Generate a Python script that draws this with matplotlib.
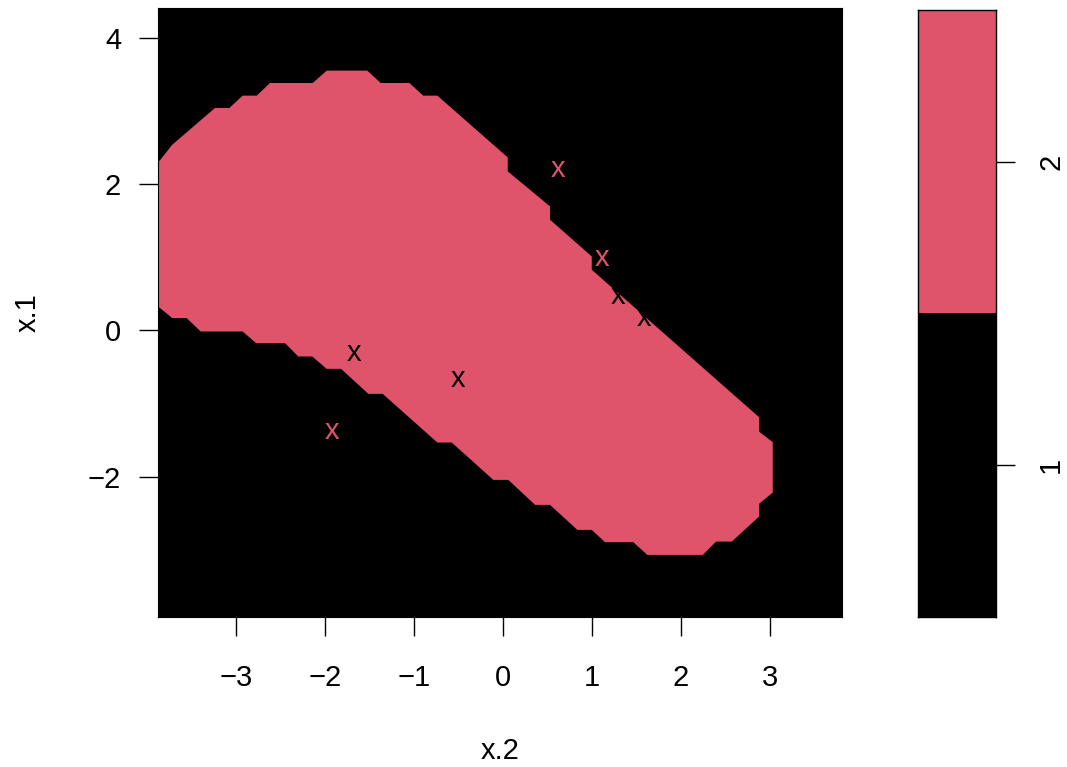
import matplotlib
matplotlib.use("Agg")
import matplotlib.pyplot as plt

plt.rcParams['font.family'] = ['Liberation Sans', 'DejaVu Sans']

# colours used by R's default palette for the two classes
class_colors = {1: 'black', 2: '#DF536B'}

# outline of the region predicted as class 2 (x.2, x.1)
boundary_x2 = [-3.876, -3.716, -3.236, -3.075, -2.925, -2.767, -2.618, -2.138,
               -1.981, -1.525, -1.374, -1.053, -0.896, -0.738, 0.053, 0.053,
               0.528, 0.528, 0.997, 0.997, 2.876, 2.876, 3.030, 3.030,
               2.876, 2.876, 2.570, 2.393, 2.244, 1.621, 1.464, 1.146,
               0.997, 0.835, 0.528, 0.360, 0.060, -0.109, -0.576, -0.738,
               -1.352, -1.513, -1.820, -1.981, -2.143, -2.300, -2.449, -2.775,
               -2.925, -3.397, -3.554, -3.716, -3.876]
boundary_x1 = [2.294, 2.540, 3.042, 3.042, 3.211, 3.211, 3.384, 3.384,
               3.553, 3.553, 3.384, 3.384, 3.211, 3.211, 2.366, 2.175,
               1.696, 1.514, 1.011, 0.829, -1.187, -1.384, -1.529, -2.218,
               -2.373, -2.547, -2.889, -2.889, -3.071, -3.071, -2.897, -2.897,
               -2.729, -2.729, -2.387, -2.387, -2.045, -2.045, -1.534, -1.534,
               -0.868, -0.868, -0.526, -0.526, -0.357, -0.357, -0.174, -0.174,
               -0.015, -0.015, 0.168, 0.168, 0.327]

# data points (class given by colour)
pts_x2 = [0.621, 1.109, -1.918, 1.292, 1.584, -1.674, -0.502]
pts_x1 = [2.198, 0.989, -1.384, 0.460, 0.159, -0.320, -0.667]
pts_class = [2, 2, 2, 1, 1, 1, 1]

xlim = (-3.876, 3.809)
ylim = (-3.92, 4.41)
xticks = [-3, -2, -1, 0, 1, 2, 3]
yticks = [-2, 0, 2, 4]
levels = [1, 2]

fs = 21

fig = plt.figure(figsize=(10.67, 7.67), dpi=100)
ax = fig.add_axes([0.1481, 0.1956, 0.6411, 0.7940])
cax = fig.add_axes([0.8604, 0.1956, 0.0731, 0.7914])

# class 1 everywhere, class 2 inside the boundary
ax.set_facecolor(class_colors[1])
ax.fill(boundary_x2, boundary_x1, color=class_colors[2], lw=0)

for x, y, c in zip(pts_x2, pts_x1, pts_class):
    ax.annotate('x', (x, y), xytext=(0, -0.26 * fs), textcoords='offset points',
                ha='center', va='baseline', fontsize=fs, color=class_colors[c])

ax.set_xlim(*xlim)
ax.set_ylim(*ylim)
ax.set_xticks(xticks)
ax.set_yticks(yticks)
ax.set_xticklabels([str(v).replace('-', '\u2212') for v in xticks])
ax.set_yticklabels([str(v).replace('-', '\u2212') for v in yticks])
ax.tick_params(axis='both', direction='out', length=13.5, width=1, labelsize=fs)
ax.tick_params(axis='x', pad=20)
ax.tick_params(axis='y', pad=13)
for s in ax.spines.values():
    s.set_color('black')
ax.set_xlabel('x.2', fontsize=fs, labelpad=33)
ax.set_ylabel('x.1', fontsize=fs, labelpad=33)

# legend bar
for lev in levels:
    cax.bar(0.5, 1, bottom=lev - 0.5, width=1, color=class_colors[lev], lw=0)
cax.set_xlim(0, 1)
cax.set_ylim(0.5, 2.5)
cax.set_xticks([])
cax.set_yticks(levels)
cax.yaxis.tick_right()
cax.tick_params(axis='y', direction='out', length=13.5, width=1, labelsize=fs,
                pad=16, labelrotation=90)
for lab in cax.get_yticklabels():
    lab.set_va('center')
for s in cax.spines.values():
    s.set_linewidth(1)

fig.savefig('out.png', dpi=100)
